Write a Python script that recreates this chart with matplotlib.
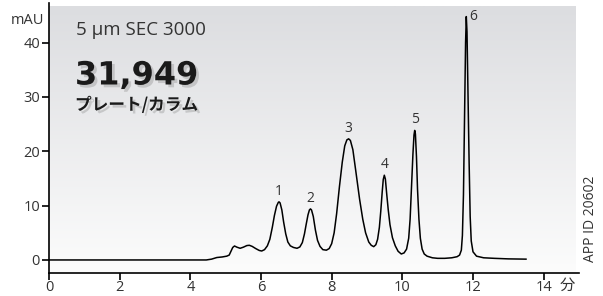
import numpy as np
import matplotlib
matplotlib.use("Agg")
import matplotlib.pyplot as plt
import matplotlib.patheffects as pe

# chromatogram trace: (time in min, absorbance in mAU)
time_min = [
    0.00, 4.45, 4.60, 4.75, 4.90, 5.03, 5.10, 5.15, 5.20, 5.25, 5.32, 5.41, 5.50, 5.60, 5.67, 5.75, 5.85, 5.95,
    6.02, 6.10, 6.18, 6.25, 6.32, 6.38, 6.44, 6.49, 6.51, 6.54, 6.59, 6.64, 6.70, 6.76, 6.83, 6.92,
    7.02, 7.10, 7.17, 7.23, 7.28, 7.33, 7.37, 7.40, 7.43, 7.48, 7.54, 7.60, 7.67, 7.75,
    7.85, 7.93, 8.00, 8.07, 8.14, 8.22, 8.30, 8.37, 8.43, 8.48, 8.53, 8.60, 8.68, 8.79, 8.88, 8.96, 9.05, 9.12,
    9.19, 9.25, 9.30, 9.35, 9.39, 9.43, 9.46, 9.49, 9.52, 9.56, 9.60, 9.65, 9.72, 9.80, 9.88,
    9.97, 10.05, 10.12, 10.18, 10.22, 10.26, 10.30, 10.33, 10.35, 10.37, 10.40, 10.43, 10.47, 10.51, 10.56, 10.62,
    10.70, 10.85, 11.00, 11.20, 11.40, 11.55, 11.62, 11.67, 11.70, 11.73, 11.76, 11.79, 11.81, 11.83, 11.86,
    11.89, 11.92, 11.95, 12.00, 12.10, 12.30, 12.60, 13.00, 13.50,
]
absorbance = [
    0.00, 0.00, 0.15, 0.45, 0.55, 0.70, 0.90, 1.60, 2.30, 2.57, 2.35, 2.15, 2.35, 2.65, 2.70, 2.50, 2.10, 1.75,
    1.65, 1.90, 2.60, 3.80, 6.00, 8.20, 9.90, 10.60, 10.70, 10.50, 9.20, 7.00, 4.80, 3.30, 2.60, 2.30,
    2.15, 2.40, 3.20, 4.80, 6.60, 8.30, 9.20, 9.40, 9.20, 8.00, 5.50, 3.60, 2.50, 1.90,
    1.80, 2.10, 3.00, 5.00, 8.50, 13.50, 18.00, 21.00, 22.10, 22.30, 22.00, 20.30, 16.50, 11.20, 7.50, 5.00, 3.30, 2.70,
    2.45, 2.80, 3.80, 6.00, 9.00, 12.50, 14.80, 15.60, 14.90, 12.00, 9.30, 6.50, 4.10, 2.60, 1.60,
    1.10, 1.30, 2.00, 4.00, 7.50, 13.50, 19.50, 23.00, 23.85, 23.20, 19.00, 13.00, 7.50, 4.00, 2.00, 1.10,
    0.70, 0.40, 0.30, 0.30, 0.40, 0.60, 0.90, 1.80, 4.50, 12.00, 26.00, 40.00, 44.80, 42.00, 30.00,
    18.00, 8.00, 3.50, 1.50, 0.70, 0.40, 0.30, 0.20, 0.15,
]

peak_labels = ["1", "2", "3", "4", "5", "6"]
peak_times = [6.51, 7.40, 8.48, 9.49, 10.35, 11.81]
peak_heights = [10.7, 9.4, 22.3, 15.6, 23.85, 44.8]

x_ticks = [0, 2, 4, 6, 8, 10, 12, 14]
y_ticks = [0, 10, 20, 30, 40]

W, H = 603, 296
fig = plt.figure(figsize=(W / 100, H / 100), dpi=100)
fig.patch.set_facecolor("white")
ax = fig.add_axes([49 / W, 23 / H, (579 - 49) / W, (273 - 3) / H])
ax.set_xlim(0, 15)
ax.set_ylim(-2.4, 47.3)
ax.set_facecolor("white")

# gradient background panel
grad = np.linspace(0, 1, 256).reshape(-1, 1)
top = np.array([220, 221, 224]) / 255
bot = np.array([252, 252, 252]) / 255
img = top[None, None, :] * (1 - grad[:, :, None]) + bot[None, None, :] * grad[:, :, None]
ax.imshow(img, extent=(0, 14.9, -2.4, 46.6), aspect="auto", origin="upper", zorder=0)

ax.plot(time_min, absorbance, color="black", lw=1.1, zorder=3, solid_joinstyle="round")

lab_font = "Open Sans"
for lab, t, h in zip(peak_labels, peak_times, peak_heights):
    if lab == "6":
        ax.text(t + 0.08, h, lab, ha="left", va="center", fontsize=10,
                color="#333333", family=lab_font, zorder=4)
    else:
        ax.text(t, h + 0.6, lab, ha="center", va="bottom", fontsize=10,
                color="#333333", family=lab_font, zorder=4)

for s in ["top", "right"]:
    ax.spines[s].set_visible(False)
for s in ["left", "bottom"]:
    ax.spines[s].set_linewidth(1.2)
    ax.spines[s].set_color("black")

ax.set_xticks(x_ticks)
ax.set_yticks(y_ticks)
ax.set_xticklabels([str(v) for v in x_ticks], family=lab_font, fontsize=10.5, color="#333333")
ax.set_yticklabels([str(v) for v in y_ticks], family=lab_font, fontsize=10.5, color="#333333")
ax.tick_params(axis="both", direction="out", length=5, width=1.2, color="black", pad=1.5)
ax.tick_params(axis="x", pad=0)

fig.text(28 / W, 1 - 20 / H, "mAU", ha="center", va="center", fontsize=10.5,
         family=lab_font, color="#333333")
fig.text(567 / W, 1 - 285 / H, "分", ha="center", va="center", fontsize=11,
         family=["Noto Sans CJK JP", "DejaVu Sans"], color="#333333")
fig.text(590 / W, 1 - 219 / H, "APP ID 20602", ha="center", va="center", rotation=90,
         fontsize=10, family=lab_font, color="#333333")

fig.text(76 / W, 1 - 30 / H, "5 µm SEC 3000", ha="left", va="center", fontsize=13.5,
         family=lab_font, color="#333333")
shadow = [pe.withSimplePatchShadow(offset=(2, -2), shadow_rgbFace="#888888", alpha=0.35)]
fig.text(75 / W, 1 - 76 / H, "31,949", ha="left", va="center", fontsize=23,
         family="DejaVu Sans", weight="bold", color="#1a1a1a", path_effects=shadow)
fig.text(75 / W, 1 - 105 / H, "プレート/カラム", ha="left", va="center", fontsize=12,
         family=["Noto Sans CJK JP", "DejaVu Sans"], weight="bold", color="#1a1a1a",
         path_effects=shadow)

fig.savefig("out.png", dpi=100, facecolor="white")
